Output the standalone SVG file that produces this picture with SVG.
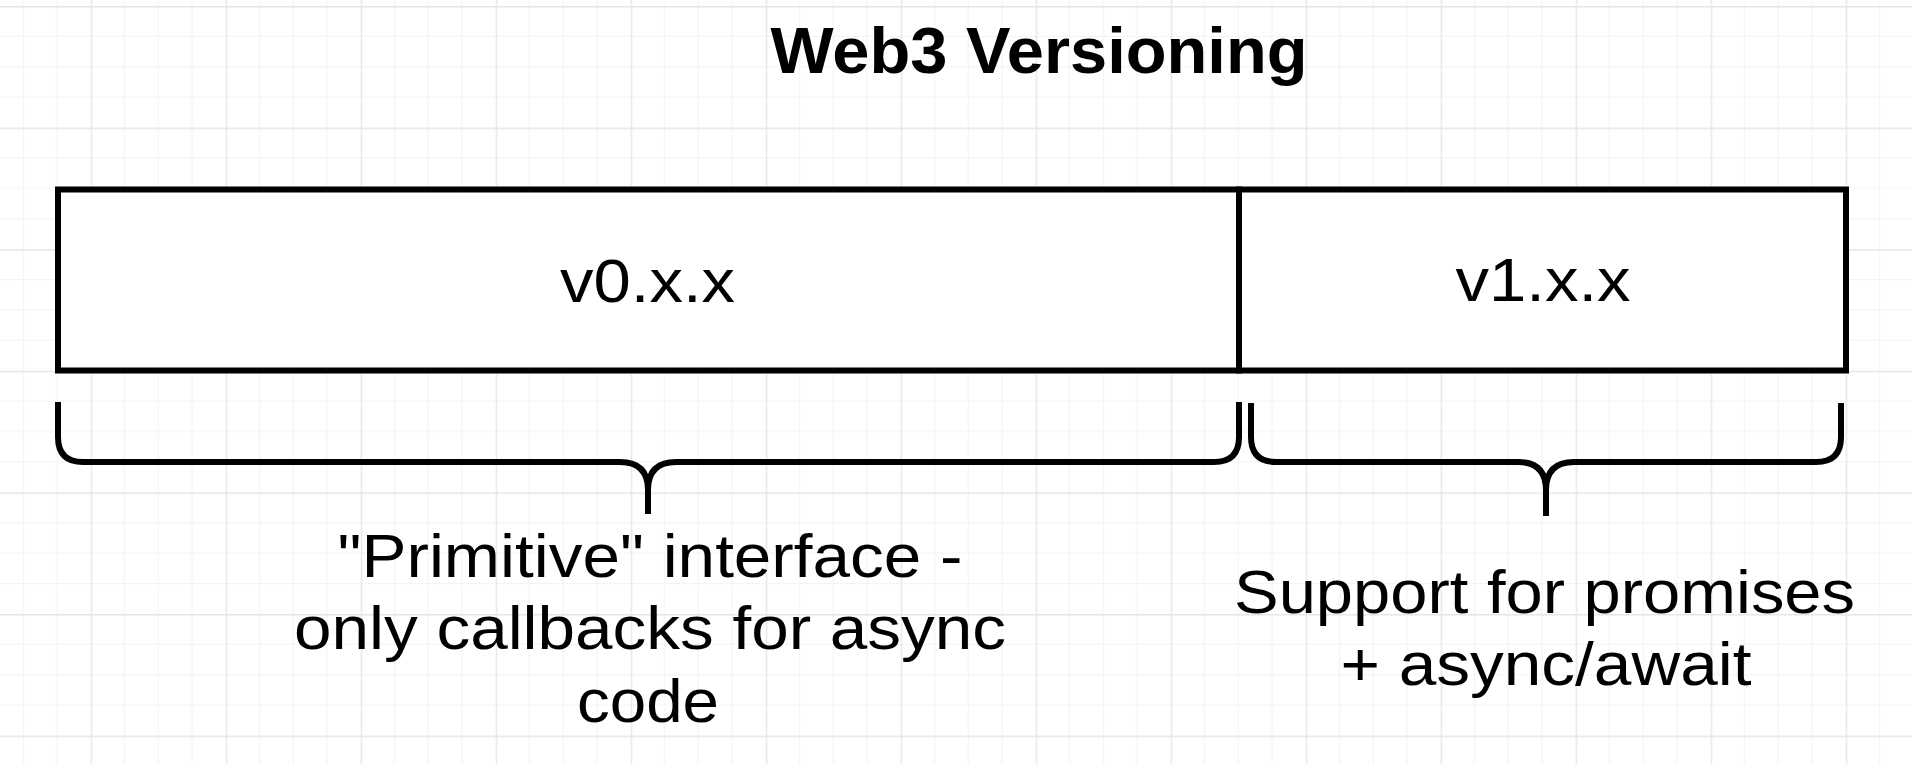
<svg xmlns="http://www.w3.org/2000/svg" width="1912" height="764" viewBox="0 0 1912 764">
  <defs>
    <pattern id="grid" patternUnits="userSpaceOnUse" x="90.7" y="6" width="135" height="121.6">
      <g stroke="#f3f3f3" stroke-width="1.2" fill="none">
        <line x1="33.75" y1="0" x2="33.75" y2="121.6"/>
        <line x1="67.5" y1="0" x2="67.5" y2="121.6"/>
        <line x1="101.25" y1="0" x2="101.25" y2="121.6"/>
        <line x1="0" y1="30.4" x2="135" y2="30.4"/>
        <line x1="0" y1="60.8" x2="135" y2="60.8"/>
        <line x1="0" y1="91.2" x2="135" y2="91.2"/>
      </g>
      <g stroke="#e6e6e6" stroke-width="1.4" fill="none">
        <line x1="0.7" y1="0" x2="0.7" y2="121.6"/>
        <line x1="0" y1="0.7" x2="135" y2="0.7"/>
      </g>
    </pattern>
    <style>
      .box { fill: #ffffff; stroke: #000000; stroke-width: 6; }
      .brace { fill: none; stroke: #000000; stroke-width: 6; stroke-linejoin: round; }
      .lbl { font-family: "Liberation Sans", Arial, Helvetica, sans-serif; font-size: 61px; fill: #000000; text-anchor: middle; }
      .title { font-family: "Liberation Sans", Arial, Helvetica, sans-serif; font-size: 64px; font-weight: bold; fill: #000000; text-anchor: middle; }
    </style>
  </defs>

  <rect x="0" y="0" width="1912" height="764" fill="#ffffff"/>
  <rect x="0" y="0" width="1912" height="764" fill="url(#grid)"/>

  <g id="title">
    <text class="title" x="1039" y="73" textLength="537" lengthAdjust="spacingAndGlyphs">Web3 Versioning</text>
  </g>

  <g id="v0">
    <rect class="box" x="58" y="189.5" width="1181" height="181"/>
    <text class="lbl" x="647.5" y="302" textLength="175" lengthAdjust="spacingAndGlyphs">v0.x.x</text>
  </g>

  <g id="v1">
    <rect class="box" x="1239" y="189.5" width="607" height="181"/>
    <text class="lbl" x="1543" y="301" textLength="175" lengthAdjust="spacingAndGlyphs">v1.x.x</text>
  </g>

  <g id="braces">
    <path class="brace" d="M58,402 V437 Q58,462 83,462 H620 Q648,462 648,490 V514 M648,490 Q648,462 676,462 H1214 Q1239,462 1239,437 V402"/>
    <path class="brace" d="M1251,403 V437 Q1251,462 1276,462 H1518 Q1546,462 1546,490 V516 M1546,490 Q1546,462 1574,462 H1816 Q1841,462 1841,437 V403"/>
  </g>

  <g id="v0-note">
    <text class="lbl" x="650" y="577" textLength="625" lengthAdjust="spacingAndGlyphs">"Primitive" interface -</text>
    <text class="lbl" x="650" y="649" textLength="712" lengthAdjust="spacingAndGlyphs">only callbacks for async</text>
    <text class="lbl" x="648" y="722" textLength="142" lengthAdjust="spacingAndGlyphs">code</text>
  </g>

  <g id="v1-note">
    <text class="lbl" x="1544.5" y="613" textLength="621" lengthAdjust="spacingAndGlyphs">Support for promises</text>
    <text class="lbl" x="1546" y="685" textLength="411" lengthAdjust="spacingAndGlyphs">+ async/await</text>
  </g>
</svg>
